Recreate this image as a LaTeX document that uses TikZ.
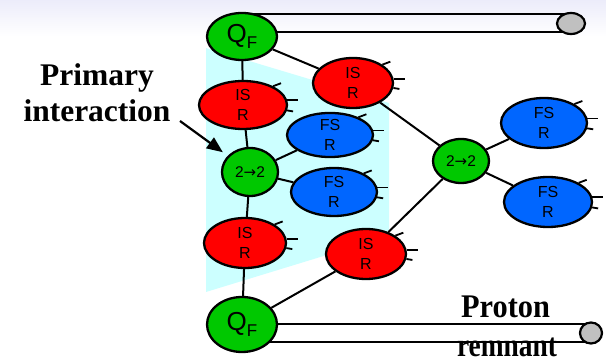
\documentclass[tikz,border=0pt]{standalone}
\usepackage{fontspec}
\setmainfont{Liberation Sans}
\newfontfamily\serifb{Liberation Serif}
\newfontfamily\dejavu{DejaVu Sans}
\usetikzlibrary{arrows.meta,calc,backgrounds,shapes.geometric}
\definecolor{gfill}{RGB}{0,200,0}
\definecolor{bfill}{RGB}{0,102,255}
\definecolor{cyanbg}{RGB}{204,255,255}
\definecolor{lav}{RGB}{236,236,250}
\definecolor{grayb}{RGB}{192,192,192}
\newcommand\gluons[1]{%
  \draw[tickline] (#1.32) -- ++(8,-3);
  \draw[tickline] (#1.6) -- ++(11,0);
  \draw[tickline] (#1.-7) -- ++(6,1);}
\begin{document}
\begin{tikzpicture}[x=1pt,y=-1pt,
  blob/.style={ellipse, draw=black, line width=2.3pt, inner sep=0pt, align=center,
               font=\fontsize{16}{20}\selectfont},
  isr/.style={blob, fill=red},
  fsr/.style={blob, fill=bfill},
  hard/.style={blob, fill=gfill, font=\fontsize{15.5}{15}\selectfont},
  qf/.style={blob, fill=gfill},
  knob/.style={ellipse, draw=black, line width=2.2pt, fill=grayb, inner sep=0pt},
  conn/.style={line width=2pt},
  barline/.style={line width=2.2pt},
  tickline/.style={line width=1.8pt},
  bigtext/.style={font=\serifb\bfseries\fontsize{31.5}{36}\selectfont, align=center, inner sep=0pt}]
\useasboundingbox (0,0) rectangle (606,363);

% nodes
\node[qf, minimum width=70pt, minimum height=47pt] (qt) at (242,36.5)
  {\fontsize{26}{26}\selectfont Q\raisebox{-6pt}{\fontsize{17}{17}\selectfont F}};
\node[qf, minimum width=70pt, minimum height=55pt] (qb) at (242,324.5)
  {\fontsize{26}{26}\selectfont Q\raisebox{-6pt}{\fontsize{17}{17}\selectfont F}};
\node[knob, minimum width=28pt, minimum height=21pt] (gt) at (571,23.5) {};
\node[knob, minimum width=22pt, minimum height=21pt] (gb) at (591,333) {};

\node[isr, minimum width=88pt, minimum height=48pt] (isA) at (243,105) {IS\\R};
\node[isr, minimum width=80pt, minimum height=50pt] (isB) at (353,83) {IS\\R};
\node[fsr, minimum width=86pt, minimum height=42pt] (fsA) at (330,135) {FS\\R};
\node[hard, minimum width=56pt, minimum height=48pt] (pA) at (250,172) {2{\dejavu\fontsize{15}{15}\selectfont →}2};
\node[fsr, minimum width=86pt, minimum height=48pt] (fsB) at (334,192) {FS\\R};
\node[isr, minimum width=82pt, minimum height=50pt] (isC) at (245,243) {IS\\R};
\node[isr, minimum width=80pt, minimum height=50pt] (isD) at (366,254) {IS\\R};
\node[hard, minimum width=56pt, minimum height=44pt] (pB) at (461,161) {2{\dejavu\fontsize{15}{15}\selectfont →}2};
\node[fsr, minimum width=86pt, minimum height=50pt] (fsC) at (544,123) {FS\\R};
\node[fsr, minimum width=88pt, minimum height=50pt] (fsD) at (548,202) {FS\\R};

\foreach \n in {isA,isB,fsA,fsB,isC,isD,fsC,fsD} {\gluons{\n}}

% labels
\node[bigtext] (prim) at (97,93) {Primary\\interaction};
\node[bigtext, font=\serifb\bfseries\fontsize{33}{36}\selectfont, anchor=base] (prot) at (505.5,318) {\scalebox{0.92}[1]{Proton}};
\node[bigtext, font=\serifb\bfseries\fontsize{33}{36}\selectfont, anchor=base] (remn) at (507,357) {\scalebox{0.83}[1]{remnant}};
\coordinate (arrs) at (180,121);
\draw[line width=2.2pt, -{Triangle[length=16pt,width=13pt]}, shorten >=6pt] (arrs) -- (pA);

\begin{scope}[on background layer]
  \shade[top color=lav, bottom color=white] (0,0) rectangle (606,36);
  \fill[cyanbg] (206,48) -- (389,103) -- (389,236) -- (206,292) -- cycle;
  \draw[barline] ($(qt.center)+(0,-22.5)$) -- ($(gt.center)+(0,-9.5)$);
  \draw[barline] ($(qt.center)+(0,-4.5)$) -- ($(gt.center)+(0,8.5)$);
  \draw[barline] ($(qb.center)+(0,-0.5)$) -- ($(gb.center)+(0,-9)$);
  \draw[barline] ($(qb.center)+(0,17.5)$) -- ($(gb.center)+(0,9)$);
  \draw[conn] (qt) -- (isA);
  \draw[conn] (qt) -- (isB);
  \draw[conn] (isB) -- (pB);
  \draw[conn] (isA) -- (pA);
  \draw[conn] (pA) -- (fsA);
  \draw[conn] (pA) -- (fsB);
  \draw[conn] (pA) -- (isC);
  \draw[conn] (isC) -- (qb);
  \draw[conn] (qb) -- (isD);
  \draw[conn] (isD) -- (pB);
  \draw[conn] (pB) -- (fsC);
  \draw[conn] (pB) -- (fsD);
\end{scope}
\end{tikzpicture}
\end{document}
